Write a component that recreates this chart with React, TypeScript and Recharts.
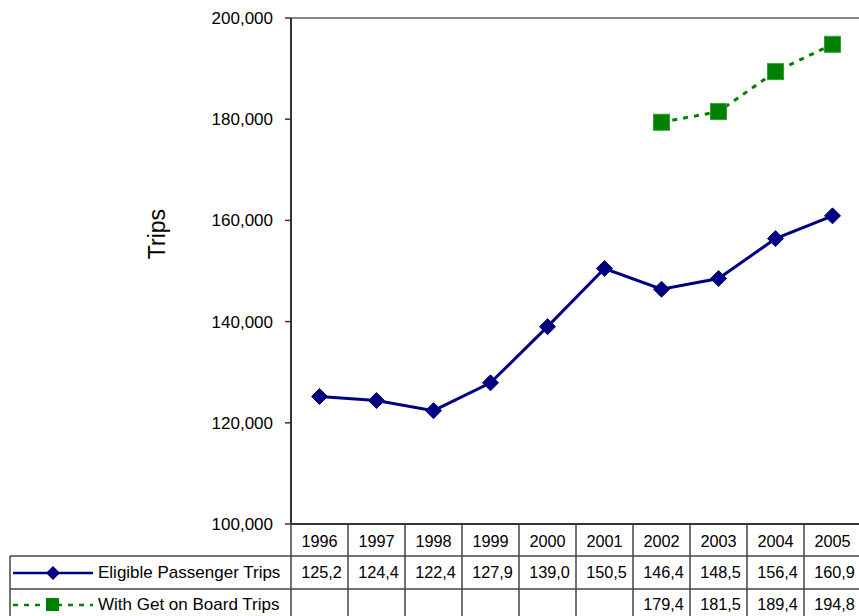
import React from 'react';
import { LineChart, Line, XAxis, YAxis, ReferenceLine } from 'recharts';

const years = ['1996', '1997', '1998', '1999', '2000', '2001', '2002', '2003', '2004', '2005'];
const eligibleTrips = [125200, 124400, 122400, 127900, 139000, 150500, 146400, 148500, 156400, 160900];
const getOnBoardTrips = [null, null, null, null, null, null, 179400, 181500, 189400, 194800];
const eligibleLabels = ['125,2', '124,4', '122,4', '127,9', '139,0', '150,5', '146,4', '148,5', '156,4', '160,9'];
const getOnBoardLabels = ['', '', '', '', '', '', '179,4', '181,5', '189,4', '194,8'];
const yTicks = [100000, 120000, 140000, 160000, 180000, 200000];
const seriesNames = ['Eligible Passenger Trips', 'With Get on Board Trips'];

const data = years.map((y, i) => ({ year: y, eligible: eligibleTrips[i], gob: getOnBoardTrips[i] }));

const NAVY = '#000080';
const GREEN = '#008000';
const FONT = '"Liberation Sans", Arial, sans-serif';
const COL = 57;
const LINE = '#444';

const Diamond = (props: any) => {
  const { cx, cy } = props;
  if (cx == null || cy == null) return null;
  const r = 8;
  return <polygon points={`${cx},${cy - r} ${cx + r},${cy} ${cx},${cy + r} ${cx - r},${cy}`} fill={NAVY} stroke={NAVY} strokeWidth={1} />;
};

const Square = (props: any) => {
  const { cx, cy, value } = props;
  if (cx == null || cy == null || value == null) return null;
  const s = 8;
  return <rect x={cx - s} y={cy - s} width={2 * s} height={2 * s} fill={GREEN} stroke="#3a9a3a" strokeWidth={1} />;
};

const TableTick = (props: any) => {
  const { x, payload, index } = props;
  const top = 525;
  const r1 = 556;
  const r2 = 589;
  const bottom = 630;
  const left = x - COL / 2;
  const right = x + COL / 2;
  const i = years.indexOf(payload.value);
  return (
    <g fontFamily={FONT} fontSize={16.3} fill="#000">
      <line x1={right} y1={top} x2={right} y2={bottom} stroke={LINE} strokeWidth={1.5} />
      <line x1={left} y1={r1} x2={right} y2={r1} stroke={LINE} strokeWidth={1.5} />
      <line x1={left} y1={r2} x2={right} y2={r2} stroke={LINE} strokeWidth={1.5} />
      <text x={x} y={547} textAnchor="middle" fill="#000">{payload.value}</text>
      <text x={x + 2} y={578} textAnchor="middle" fill="#000">{eligibleLabels[i]}</text>
      <text x={x + 2} y={610} textAnchor="middle" fill="#000">{getOnBoardLabels[i]}</text>
      {index === 0 && (
        <g>
          <line x1={10} y1={r1} x2={left} y2={r1} stroke={LINE} strokeWidth={1.5} />
          <line x1={10} y1={r2} x2={left} y2={r2} stroke={LINE} strokeWidth={1.5} />
          <line x1={10} y1={r1} x2={10} y2={bottom} stroke={LINE} strokeWidth={1.5} />
          <line x1={left} y1={top} x2={left} y2={bottom} stroke={LINE} strokeWidth={1.5} />
          <line x1={13} y1={573} x2={93} y2={573} stroke={NAVY} strokeWidth={2.5} />
          <polygon points="53,566 60,573 53,580 46,573" fill={NAVY} />
          <line x1={13} y1={605} x2={93} y2={605} stroke={GREEN} strokeWidth={2.5} strokeDasharray="5 6" />
          <rect x={46} y={598} width={13} height={13} fill={GREEN} />
          <text x={98} y={578} fontSize={17} fill="#000">{seriesNames[0]}</text>
          <text x={98} y={610} fontSize={17} fill="#000">{seriesNames[1]}</text>
        </g>
      )}
    </g>
  );
};

const TripsLabel = () => (
  <text x={157} y={234} transform="rotate(-90, 157, 234)" textAnchor="middle" dominantBaseline="central" fontFamily={FONT} fontSize={23} fill="#000">Trips</text>
);

export default function App() {
  return (
    <div style={{ position: 'absolute', left: 0, top: 0, width: 859, height: 616, overflow: 'hidden', background: '#fff' }}>
      <LineChart width={890} height={616} data={data} margin={{ top: 18, right: 29, bottom: 0, left: 0 }}>
        <ReferenceLine y={200000} stroke="#888" strokeWidth={2} />
        <XAxis
          dataKey="year"
          type="category"
          padding={{ left: COL / 2, right: COL / 2 }}
          height={92}
          tickSize={0}
          tickMargin={0}
          interval={0}
          axisLine={{ stroke: '#333', strokeWidth: 2 }}
          tick={<TableTick />}
        />
        <YAxis
          type="number"
          domain={[100000, 200000]}
          ticks={yTicks}
          width={291}
          tickSize={6}
          tickMargin={12}
          axisLine={{ stroke: '#333', strokeWidth: 2 }}
          tickLine={{ stroke: '#333', strokeWidth: 1.5 }}
          tick={{ fontFamily: FONT, fontSize: 17, fill: '#000' }}
          tickFormatter={(v: number) => v.toLocaleString('en-US')}
          label={<TripsLabel />}
        />
        <Line dataKey="eligible" stroke={NAVY} strokeWidth={3} dot={<Diamond />} isAnimationActive={false} />
        <Line dataKey="gob" stroke={GREEN} strokeWidth={3} strokeDasharray="5 6" dot={<Square />} connectNulls={false} isAnimationActive={false} />
      </LineChart>
    </div>
  );
}
